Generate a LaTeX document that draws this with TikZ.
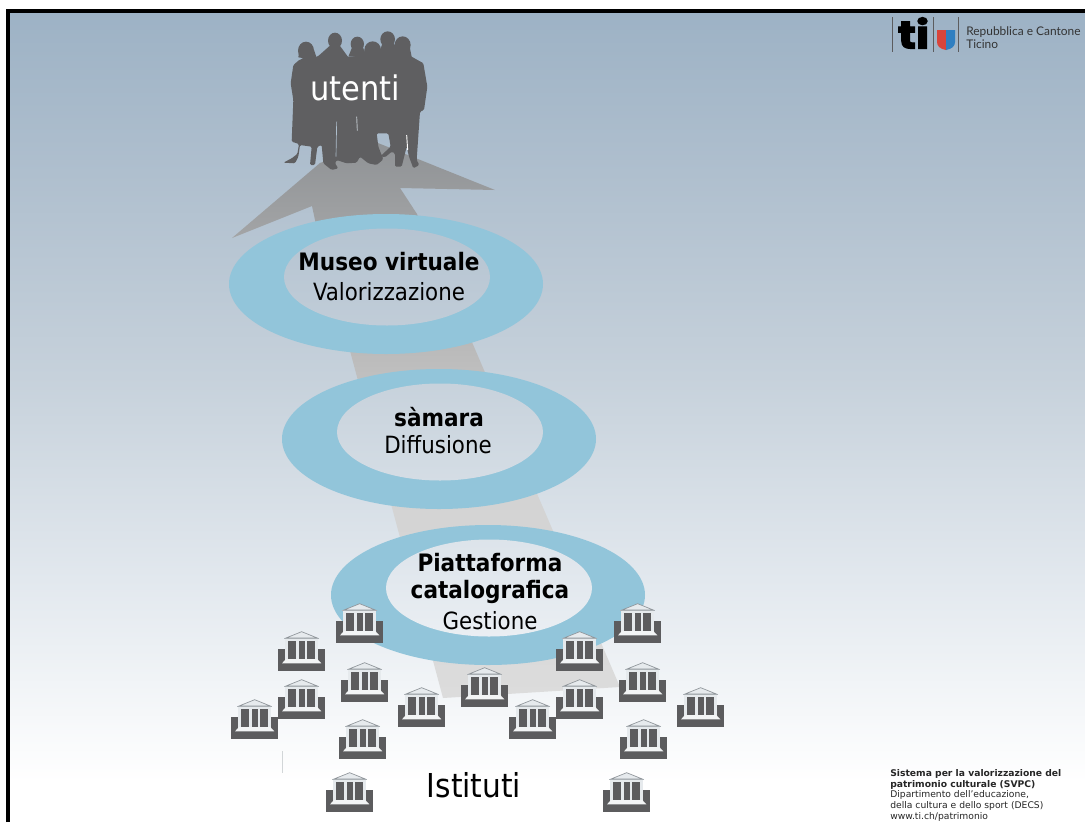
\documentclass[tikz,border=0pt]{standalone}
\usepackage{fontspec}
\setmainfont{DejaVu Sans}
\newfontfamily\mainf{DejaVu Sans Condensed}
\newfontfamily\logof{Lato}
\newfontfamily\tif{Poppins}[BoldFeatures={FakeBold=3}]
\definecolor{ring}{HTML}{92C5DA}
\definecolor{dark}{HTML}{5C5C5E}
\definecolor{sil}{HTML}{5F5F61}
\definecolor{bga}{HTML}{E2E8EE}
\definecolor{bgb}{HTML}{C6D1DB}
\definecolor{bgc}{HTML}{AFBFCE}
\definecolor{bgd}{HTML}{9DB2C5}
\definecolor{ara}{HTML}{DCDCDC}
\definecolor{arb}{HTML}{D2D2D2}
\definecolor{arc}{HTML}{B8B8B8}
\definecolor{ard}{HTML}{8F9295}
\definecolor{coll}{HTML}{E6EAED}
\definecolor{stepc}{HTML}{F2F4F5}
\definecolor{lineg}{HTML}{B4BABF}
\definecolor{roofl}{HTML}{8E9499}
\definecolor{shr}{HTML}{D8453C}
\definecolor{shb}{HTML}{2F7FC1}
\definecolor{gapc}{HTML}{AEBECC}
\pgfdeclareverticalshading{bgsh}{100bp}{
 color(0bp)=(white);
 color(27.5bp)=(white);
 color(40bp)=(bga);
 color(52.5bp)=(bgb);
 color(65bp)=(bgc);
 color(75bp)=(bgd);
 color(100bp)=(bgd)}
\pgfdeclareverticalshading{arrowsh}{100bp}{
 color(0bp)=(ara);
 color(25bp)=(ara);
 color(45bp)=(arb);
 color(57.5bp)=(arc);
 color(75bp)=(ard);
 color(100bp)=(ard)}
\tikzset{
 title/.style={font=\mainf\bfseries\fontsize{18}{22}\selectfont,text=black,inner sep=0pt},
 sub/.style={font=\mainf\fontsize{17.8}{20}\selectfont,text=black,inner sep=0pt},
 big/.style={font=\mainf\fontsize{25.4}{28}\selectfont,inner sep=0pt},
 ringout/.style={fill=ring,draw=none},
 bldg/.pic={
  \begin{scope}[x=0.25pt,y=-0.25pt]
   \fill[coll] (22,-92) rectangle (120,-30);
   \fill[dark] (0,-66) rectangle (142,0);
   \fill[coll] (22,-66) rectangle (30,-32);
   \fill[coll] (53,-66) rectangle (63,-32);
   \fill[coll] (80,-66) rectangle (88,-32);
   \fill[coll] (112,-66) rectangle (120,-32);
   \fill[dark] (30,-90) rectangle (53,-34);
   \fill[dark] (63,-90) rectangle (80,-34);
   \fill[dark] (88,-90) rectangle (112,-34);
   \fill[stepc] (24,-36) -- (118,-36) -- (130,-23) -- (12,-23) -- cycle;
   \fill[lineg] (18,-98) rectangle (124,-95);
   \fill[coll] (22,-95) rectangle (120,-90);
   \fill[coll,draw=roofl,line width=.5pt] (71,-118) -- (118,-99) -- (24,-99) -- cycle;
  \end{scope}
 },
}
\begin{document}
\begin{tikzpicture}[x=0.75pt,y=-0.75pt]
\useasboundingbox (0,0) rectangle (1085,822);
\fill[white] (0,0) rectangle (1085,822);
% background
\shade[shading=bgsh] (8,11) rectangle (1085,822);
\draw[black,line width=2.4pt] (8,822) -- (8,11) -- (1085,11);
% arrow
\shade[shading=arrowsh] (232,238) -- (320,163) -- (378,143) -- (495,190) -- (400,188) -- (417,214)
  -- (620,687) -- (443,698) -- (315,220) -- (312,206) -- cycle;
% rings
\foreach \cx/\cy/\nm in {386/284/a,439/439/b,488/595/c}{
  \fill[ringout] (\cx,\cy) ellipse [x radius=157,y radius=70];
  \begin{scope}
    \clip (\cx+1,\cy-7) ellipse [x radius=103,y radius=48.5];
    \shade[shading=bgsh] (8,11) rectangle (1085,822);
  \end{scope}
}
% people
\begin{scope}[shift={(220,0)},x=0.25pt,y=-0.25pt]
 \fill[sil,rounded corners=1pt] (190,488) -- (215,475) -- (232,462) -- (237,432) -- (215,425) -- (220,300) -- (212,250) -- (220,195) -- (240,178) -- (285,172) -- (320,158) -- (350,150) -- (385,172) -- (425,165) -- (440,155) -- (480,155) -- (490,150) -- (530,150) -- (570,170) -- (610,190) -- (622,260) -- (612,330) -- (600,335) -- (590,480) -- (598,495) -- (580,505) -- (567,470) -- (560,440) -- (550,480) -- (545,500) -- (525,500) -- (525,460) -- (515,455) -- (495,472) -- (482,468) -- (512,440) -- (505,400) -- (470,400) -- (475,440) -- (490,478) -- (470,495) -- (445,490) -- (420,470) -- (410,488) -- (380,490) -- (350,480) -- (345,490) -- (355,505) -- (335,510) -- (310,490) -- (305,435) -- (292,440) -- (285,495) -- (270,495) -- (275,440) -- (240,435) -- (235,470) -- (225,490) -- cycle;
 \fill[sil] (258,152) ellipse [x radius=24,y radius=27];
 \fill[sil] (345,122) ellipse [x radius=21,y radius=24];
 \fill[sil] (412,132) ellipse [x radius=20,y radius=22];
 \fill[sil] (458,150) ellipse [x radius=25,y radius=26];
 \fill[sil] (503,118) ellipse [x radius=22,y radius=24];
 \fill[sil] (548,135) ellipse [x radius=24,y radius=26];
 \fill[sil] (235,172) -- (238,150) -- (282,150) -- (292,180) -- cycle;
 \fill[sil] (332,135) -- (358,135) -- (385,172) -- (295,168) -- cycle;
 \fill[sil] (397,140) -- (428,140) -- (440,170) -- (385,170) -- cycle;
 \fill[sil] (435,150) -- (482,150) -- (495,175) -- (425,175) -- cycle;
 \fill[sil] (487,130) -- (522,130) -- (535,160) -- (478,160) -- cycle;
 \fill[sil] (527,145) -- (570,145) -- (575,170) -- (610,190) -- (520,180) -- cycle;
 \draw[white,line width=.7pt] (560,405) -- (563,450);
 \draw[lineg,line width=.7pt] (410,350) -- (412,392);
 \draw[gapc,line width=.5pt] (350,365) -- (348,470);
\end{scope}
% labels
\node[big,text=white] (utenti) at (355,88) {utenti};
\node[title] (museo) at (389,262) {Museo virtuale};
\node[sub] (valor) at (389,292) {Valorizzazione};
\node[title] (samara) at (439,417) {sàmara};
\node[sub] (diff) at (438,445) {Diffusione};
\node[title] (piatt) at (490,563) {Piattaforma};
\node[title] (catal) at (490,592) {catalografica};
\node[sub] (gest) at (490,621) {Gestione};
\node[font=\mainf\fontsize{24.7}{28}\selectfont,inner sep=0pt,text=black] (ist) at (474,785) {Istituti};
% buildings
\foreach \px/\py in {336/643,278/671,341/702,278/719,231/739,398/727,339/759,326/812,
  461/707,556/671,614/643,619/702,556/719,509/739,677/727,620/759,603/812}{
  \pic at (\px,\py) {bldg};
}
\draw[lineg!60!white,line width=.5pt] (282,751) -- (282,773);
% logo
\draw[dark,line width=.4pt] (892,17) -- (892,52) (933,17) -- (933,52) (958,17) -- (958,52);
\node[font=\tif\bfseries\fontsize{29}{29}\selectfont,inner sep=0pt,text=black,xscale=1.15] (ti) at (913.5,33) {ti};
\fill[shr] (937,30) -- (946,30) -- (946,50) .. controls (940,49) and (937,46) .. (937,42) -- cycle;
\fill[shb] (946,30) -- (955,30) -- (955,42) .. controls (955,46) and (952,49) .. (946,50) -- cycle;
\node[font=\logof\fontsize{8.95}{10.2}\selectfont,align=left,anchor=north west,inner sep=0pt,text=black!80] (logotxt) at (966,26) {Repubblica e Cantone\\Ticino};
% footer
\node[font=\fontsize{6.9}{8.05}\selectfont,align=left,anchor=north west,inner sep=0pt,text=black!85] (foot) at (890,769) {\textbf{Sistema per la valorizzazione del}\\\textbf{patrimonio culturale (SVPC)}\\Dipartimento dell'educazione,\\della cultura e dello sport (DECS)\\www.ti.ch/patrimonio};
\end{tikzpicture}
\end{document}
